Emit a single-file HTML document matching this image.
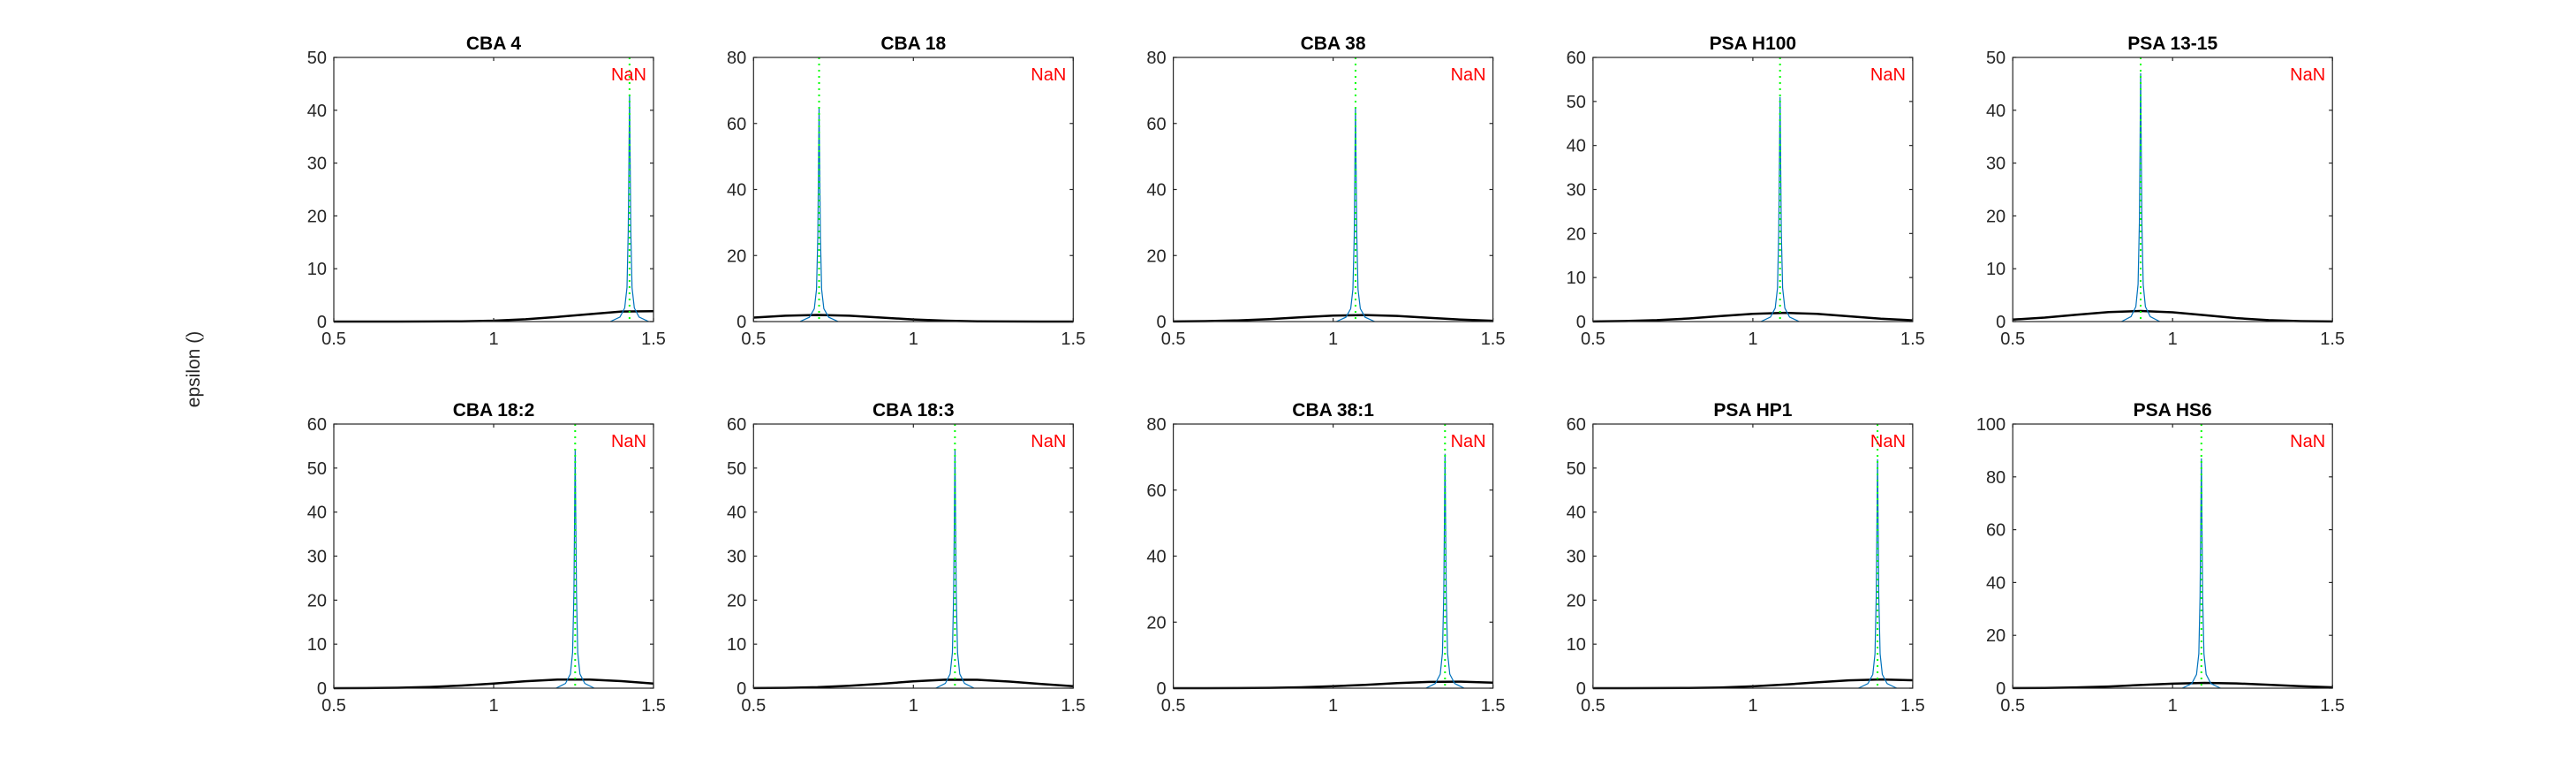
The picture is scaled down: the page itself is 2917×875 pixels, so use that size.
<!DOCTYPE html>
<html><head><meta charset="utf-8"><style>
html,body{margin:0;padding:0;background:#fff;}
svg{display:block;font-family:"Liberation Sans",Arial,sans-serif;}
</style></head><body>
<svg id="fig" width="2917" height="875" viewBox="0 0 2917 875" xmlns="http://www.w3.org/2000/svg">
<rect width="2917" height="875" fill="#fff"/>
<text x="0" y="0" transform="translate(226,418) rotate(-90)" text-anchor="middle" font-size="21" fill="#262626">epsilon ()</text>
</svg>
<script>
const titles = ["CBA 4","CBA 18","CBA 38","PSA H100","PSA 13-15","CBA 18:2","CBA 18:3","CBA 38:1","PSA HP1","PSA HS6"];
const yMaxes = [50,80,80,60,50,60,60,80,60,100];
const yStep = [10,20,20,10,10,10,10,20,10,20];
const greenX = [1.425,0.705,1.07,1.085,0.9,1.255,1.13,1.35,1.39,1.09];
const spikePeaks = [43,65,65,51,47,54,54,71,52,87];
const spikeOffsets = [-0.06,-0.03,-0.015,-0.008,-0.004,0,0.004,0.008,0.015,0.03,0.06];
const spikeShape = [0,0.02,0.06,0.15,0.4,1,0.4,0.15,0.06,0.02,0];
const gaussX = [0.5,0.6,0.7,0.8,0.9,1.0,1.1,1.2,1.3,1.4,1.5];
const gaussY = [
 [0,0,0,0.01,0.05,0.17,0.44,0.88,1.4,1.9,1.95],
 [1.21,1.76,2.0,1.76,1.21,0.65,0.27,0.09,0.02,0,0],
 [0.04,0.14,0.36,0.76,1.3,1.8,1.99,1.7,1.15,0.6,0.25],
 [0.03,0.12,0.32,0.7,1.24,1.75,1.99,1.75,1.2,0.65,0.28],
 [0.36,0.76,1.3,1.8,2.0,1.76,1.21,0.65,0.27,0.09,0.02],
 [0.01,0.03,0.1,0.28,0.6,1.07,1.58,1.94,1.96,1.6,1.07],
 [0.02,0.08,0.23,0.55,1.0,1.55,1.93,1.9,1.5,0.95,0.47],
 [0,0.01,0.03,0.1,0.27,0.58,1.03,1.52,1.9,1.97,1.68],
 [0,0,0.02,0.06,0.17,0.42,0.82,1.33,1.78,1.98,1.8],
 [0.03,0.11,0.3,0.65,1.2,1.72,2.0,1.8,1.3,0.74,0.33]
];
const xTicks = [0.5,1,1.5];
const xTickLabels = ["0.5","1","1.5"];
const NS = "http://www.w3.org/2000/svg";
const svg = document.getElementById('fig');
const L0 = 378, W = 362, H = 299, colGap = 475.3, tops = [65,480];
function mk(tag, attrs, parent){const e=document.createElementNS(NS,tag);for(const k in attrs)e.setAttribute(k,attrs[k]);parent.appendChild(e);return e;}
for(let i=0;i<10;i++){
  const c=i%5, r=Math.floor(i/5);
  const left=L0+c*colGap, top=tops[r];
  const g=mk('g',{},svg);
  
  
  const sx=v=>left+(v-0.5)/1.0*W;
  const sy=v=>top+H-v/yMaxes[i]*H;
  // gaussian
  const gp=gaussX.map((x,k)=>sx(x).toFixed(1)+','+sy(gaussY[i][k]).toFixed(1)).join(' ');
  const gl=mk('polyline',{points:gp,fill:'none',stroke:'#000','stroke-width':2.5},g);
  
  
  // spike
  const sp=spikeOffsets.map((o,k)=>sx(greenX[i]+o).toFixed(1)+','+sy(spikeShape[k]*spikePeaks[i]).toFixed(1)).join(' ');
  const sl=mk('polyline',{points:sp,fill:'none',stroke:'#0072BD','stroke-width':1.2},g);
  
  
  // green dotted
  const gv=mk('line',{x1:sx(greenX[i]),x2:sx(greenX[i]),y1:top,y2:top+H,stroke:'#00ff00','stroke-width':2,'stroke-dasharray':'2,5'},g);
  
  
  // box
  const bx=mk('rect',{x:left,y:top,width:W,height:H,fill:'none',stroke:'#262626','stroke-width':1.2},g);
  
  
  // y ticks
  for(let v=0;v<=yMaxes[i];v+=yStep[i]){
    const y=sy(v);
    mk('line',{x1:left,x2:left+4,y1:y,y2:y,stroke:'#262626','stroke-width':1.2},g);
    mk('line',{x1:left+W,x2:left+W-4,y1:y,y2:y,stroke:'#262626','stroke-width':1.2},g);
    const t=mk('text',{x:left-8,y:y+7,'text-anchor':'end','font-size':20,fill:'#262626'},g);
    t.textContent=String(v);
    
    
  }
  xTicks.forEach((v,k)=>{
    const x=sx(v);
    mk('line',{x1:x,x2:x,y1:top+H,y2:top+H-4,stroke:'#262626','stroke-width':1.2},g);
    mk('line',{x1:x,x2:x,y1:top,y2:top+4,stroke:'#262626','stroke-width':1.2},g);
    const t=mk('text',{x:x,y:top+H+26,'text-anchor':'middle','font-size':20,fill:'#262626'},g);
    t.textContent=xTickLabels[k];
    
    
  });
  const tt=mk('text',{x:left+W/2,y:top-9,'text-anchor':'middle','font-size':21,'font-weight':'bold',fill:'#000'},g);
  tt.textContent=titles[i];
  
  
  const nn=mk('text',{x:left+W-8,y:top+26,'text-anchor':'end','font-size':20,fill:'#ff0000'},g);
  nn.textContent='NaN';
  
  
}
</script>
</body></html>
